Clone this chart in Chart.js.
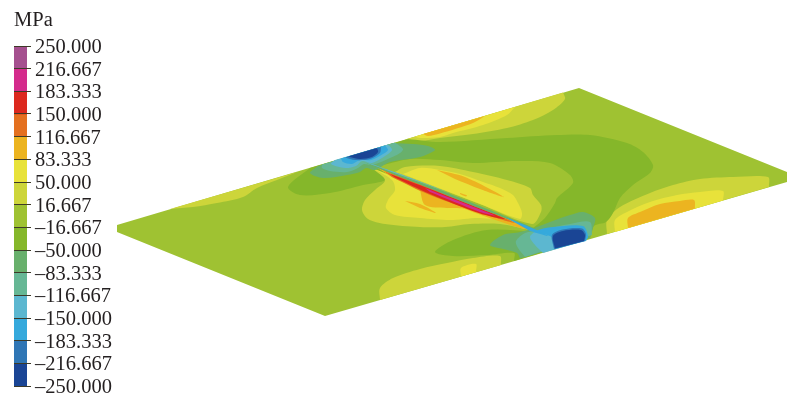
<!DOCTYPE html>
<html>
<head>
<meta charset="utf-8">
<title>MPa</title>
<script src="https://cdn.jsdelivr.net/npm/chart.js@4/dist/chart.umd.min.js"></script>
<style>
    html, body { margin: 0; padding: 0; background: #ffffff; overflow: hidden; width: 789px; height: 395px; }
    canvas { position: absolute; left: 0; top: 0; }
</style>
</head>
<body>
<canvas id="placa" width="789" height="395"></canvas>
<canvas id="escala" width="117" height="410"></canvas>
<script>
// color scale
const niveles = [250, 216.667, 183.333, 150, 116.667, 83.333, 50, 16.667, -16.667, -50, -83.333, -116.667, -150, -183.333, -216.667, -250];
const etiquetas = ['250.000', '216.667', '183.333', '150.000', '116.667', '83.333', '50.000', '16.667', '–16.667', '–50.000', '–83.333', '–116.667', '–150.000', '–183.333', '–216.667', '–250.000'];
const colores = ['#a5508f', '#d42b8c', '#dc281e', '#e4701f', '#ecb420', '#e8e23a', '#cdd53a', '#9fc232', '#85b72a', '#68b06c', '#66b795', '#5cb7d0', '#35a9dc', '#2f76b5', '#1a4595'];

// contour outlines, [x, y] in picture units
// outlines that touch a plate edge start and end on it, the closing stroke stays straight
const placa = [[117, 225], [579, 88], [787, 172], [787, 182], [325, 316], [117, 232]];
const bandaIzq = [[297, 172], [277, 180], [257, 188], [243, 197], [217, 203], [193, 207], [170, 209]];
const bajoClaro = [[380, 300], [380, 288], [393, 278], [420, 269], [447, 263], [473, 258], [500, 256], [501, 265]];
const bajoAmarillo = [[461, 276.5], [461, 268], [476, 264], [476, 272]];
const derClaro = [[607, 234], [607, 220], [620, 207], [650, 193], [673, 185], [700, 179], [733, 177], [768, 177], [769, 187]];
const derAmarillo = [[615, 232], [615, 220], [627, 212], [650, 202], [677, 195], [700, 192], [723, 191], [723, 200.5]];
const derAmbar = [[628, 228], [628, 218], [640, 212], [660, 204], [680, 201], [694, 200], [695, 208.5]];
const topeClaro = [[563, 92.5], [565, 99], [553, 110], [533, 120], [507, 128], [473, 134], [440, 138], [420, 141], [405, 139.5]];
const topeAmarillo = [[515, 107], [507, 115], [483, 125], [453, 133], [440, 137], [420, 138], [415, 136.5]];
const topeAmbar = [[485, 116], [473, 123], [440, 133.5], [428, 136], [423, 134]];
// corner points doubled where the outline runs along the lower edge
const verdeOscuro = [[408, 139], [440, 142], [507, 138], [557, 135], [590, 135], [627, 143], [643, 152], [653, 165], [650, 173], [633, 185], [620, 198], [613, 213], [606, 222], [594, 226], [590, 238], [590, 238], [514, 261], [514, 261], [514, 253], [487, 255], [453, 256], [435, 252], [453, 240], [487, 230], [530, 231], [530, 231], [377, 172], [377, 172], [385, 180], [363, 185], [330, 193], [300, 195], [288, 187], [310, 168]];
const anillo = [[375, 166], [383, 165], [410, 159], [440, 160], [473, 163], [517, 161], [550, 163], [570, 175], [573, 183], [557, 198], [555, 203], [545, 218], [533, 228]];
const jorobaClaroSur = [[372, 168], [385, 180], [375, 190], [365, 200], [362, 210], [368, 219], [385, 224], [420, 227], [445, 227], [470, 224], [500, 224], [530, 230]];
const jorobaAmarilloSur = [[374, 169], [392, 180], [395, 190], [388, 200], [386, 208], [395, 215], [420, 218], [450, 220], [480, 218], [510, 222], [528, 230]];
const jorobaAmbarSur = [[420, 190], [425, 205], [447, 208], [473, 209], [490, 214]];
const vetaSur = [[405, 201], [420, 204], [436, 213], [420, 208]];
const jorobaClaroNorte = [[395, 172], [405, 167], [440, 166], [473, 172], [507, 180], [530, 188], [533, 195], [541, 205], [541, 212], [532, 224], [480, 204]];
const jorobaAmarilloNorte = [[403, 174], [420, 168], [440, 170], [460, 174], [483, 182], [500, 188], [513, 195], [518, 203], [522, 213], [520, 219], [480, 204]];
const vetaNorte = [[437, 170], [465, 177], [504, 197], [480, 189], [455, 179]];
const vetaCorta = [[460, 193], [467, 195.5], [466, 196.5], [460, 194]];
const tramoVerde = [[520, 258.5], [517, 253], [503, 249], [490, 245], [503, 235], [520, 232], [537, 227], [550, 222], [570, 215], [583, 212], [595, 218], [593, 228], [590, 238]];
const tramoTeal = [[525, 257], [518, 248], [516, 241], [525, 233], [535, 231], [545, 229], [570, 224], [590, 222], [592, 235]];
const tramoCeleste = [[543, 253], [535, 245], [530, 237], [535, 232], [553, 228], [583, 227], [588, 236], [586, 240.5]];
const tramoAzulClaro = [[555, 249], [553, 238], [537, 231], [553, 227], [583, 226], [588, 236], [586, 241]];
const tramoAzul = [[554, 249], [552, 235], [563, 229.5], [582, 228.5], [586, 234], [585, 241]];
const tramoAzulOscuro = [[555, 248.5], [553, 236], [563, 231], [581, 230], [585, 235], [584, 241]];
const inicioVerde = [[393, 143], [413, 144], [428, 146], [435, 150], [420, 157], [390, 162], [375, 170], [366, 168], [360, 172], [347, 175], [323, 178], [310, 173], [318, 166]];
const inicioTeal = [[395, 142.5], [403, 149], [400, 153], [390, 158], [372, 165], [364, 164], [358, 168], [347, 172], [330, 171], [322, 168], [322, 164.5]];
const inicioCeleste = [[388, 144.5], [392, 150], [385, 156], [372, 163], [362, 161], [356, 166], [345, 168], [331, 164], [335, 160]];
const inicioAzulClaro = [[385, 145.5], [388, 150], [383, 154], [371, 160], [360, 160], [352, 164], [343, 162], [341, 158.5]];
const inicioAzul = [[381, 147], [380, 153], [370, 159], [355, 160], [345, 157.5]];
const inicioAzulOscuro = [[377, 148], [378, 152], [372, 157], [360, 159], [348, 156.5]];
const lineaAmbar = [[376, 167], [430, 190], [500, 216], [530, 229], [520, 228], [480, 214.5], [430, 195.5], [392, 177]];
const lineaNaranja = [[384, 171], [430, 188], [490, 212], [515, 223], [490, 216], [430, 195], [392, 177]];
const lineaRoja = [[390, 174], [430, 189], [480, 208.5], [505, 219], [480, 213.5], [430, 194], [395, 177.5]];
const lineaMagenta = [[425, 188], [480, 209.5], [495, 215.5], [480, 212], [430, 192]];
const lineaVerde = [[362, 161], [430, 186], [480, 206], [536, 229], [480, 208.5], [430, 188.5], [375, 167]];
const lineaCeleste = [[360, 160], [400, 174], [450, 193], [400, 175], [365, 162]];
const lineaFin = [[505, 217], [532, 228], [548, 236], [530, 231]];

// painted in this order, later outlines cover the earlier ones
const zonas = [
    [placa, colores[7]],
    [bandaIzq, colores[6]],
    [bajoClaro, colores[6]],
    [bajoAmarillo, colores[5]],
    [derClaro, colores[6]],
    [derAmarillo, colores[5]],
    [derAmbar, colores[4]],
    [topeClaro, colores[6]],
    [topeAmarillo, colores[5]],
    [topeAmbar, colores[4]],
    [verdeOscuro, colores[8]],
    [anillo, colores[7]],
    [jorobaClaroSur, colores[6]],
    [jorobaAmarilloSur, colores[5]],
    [jorobaAmbarSur, colores[4]],
    [vetaSur, colores[4]],
    [jorobaClaroNorte, colores[6]],
    [jorobaAmarilloNorte, colores[5]],
    [vetaNorte, colores[4]],
    [vetaCorta, colores[4]],
    [tramoVerde, colores[9]],
    [tramoTeal, colores[10]],
    [tramoCeleste, colores[11]],
    [tramoAzulClaro, colores[12]],
    [tramoAzul, colores[13]],
    [tramoAzulOscuro, colores[14]],
    [inicioVerde, colores[9]],
    [inicioTeal, colores[10]],
    [inicioCeleste, colores[11]],
    [inicioAzulClaro, colores[12]],
    [inicioAzul, colores[13]],
    [inicioAzulOscuro, colores[14]],
    [lineaAmbar, colores[4]],
    [lineaNaranja, colores[3]],
    [lineaRoja, colores[2]],
    [lineaMagenta, colores[1]],
    [lineaVerde, colores[9]],
    [lineaCeleste, colores[11]],
    [lineaFin, colores[12]]
];

const familia = '"Liberation Serif", "Times New Roman", serif';

new Chart(document.getElementById('placa').getContext('2d'), {
    type: 'scatter',
    data: {
        // chart.js paints the first dataset last
        datasets: zonas.map(function (z) {
            return {
                data: z[0].map(function (p) { return { x: p[0], y: p[1] }; }),
                showLine: true,
                fill: 'shape',
                backgroundColor: z[1],
                borderWidth: 0,
                pointRadius: 0,
                tension: z[0] === placa ? 0 : 0.3
            };
        }).reverse()
    },
    options: {
        responsive: false,
        animation: false,
        events: [],
        layout: { padding: 0 },
        scales: {
            x: { type: 'linear', min: 0, max: 789, display: false },
            y: { type: 'linear', min: 0, max: 395, reverse: true, display: false }
        },
        plugins: { legend: { display: false }, tooltip: { enabled: false } }
    }
});

new Chart(document.getElementById('escala').getContext('2d'), {
    type: 'bar',
    data: {
        labels: ['MPa'],
        datasets: colores.map(function (c, i) {
            return {
                data: [[niveles[i + 1], niveles[i]]],
                backgroundColor: c,
                borderWidth: 0,
                barPercentage: 1,
                categoryPercentage: 1
            };
        })
    },
    options: {
        responsive: false,
        animation: false,
        events: [],
        layout: { padding: { left: 14, bottom: 24 } },
        scales: {
            x: { display: false, stacked: true },
            y: {
                position: 'right',
                min: -250,
                max: 250,
                afterBuildTicks: function (axis) {
                    axis.ticks = niveles.map(function (v) { return { value: v }; });
                },
                afterFit: function (axis) { axis.width = 90; },
                border: { display: false },
                grid: { color: '#3d3a28', lineWidth: 1, tickLength: 4, z: 1 },
                ticks: {
                    color: '#231f20',
                    // empty first line pushes the number a little below the tick
                    font: { family: familia, size: 20.5, lineHeight: '3px' },
                    padding: 4,
                    autoSkip: false,
                    callback: function (v, i) { return ['', etiquetas[i]]; }
                }
            }
        },
        plugins: {
            legend: { display: false },
            tooltip: { enabled: false },
            title: {
                display: true,
                text: 'MPa',
                align: 'start',
                color: '#231f20',
                font: { family: familia, size: 20.5, weight: 'normal' },
                padding: { top: 8, bottom: 13.4 }
            }
        }
    }
});
</script>
</body>
</html>
